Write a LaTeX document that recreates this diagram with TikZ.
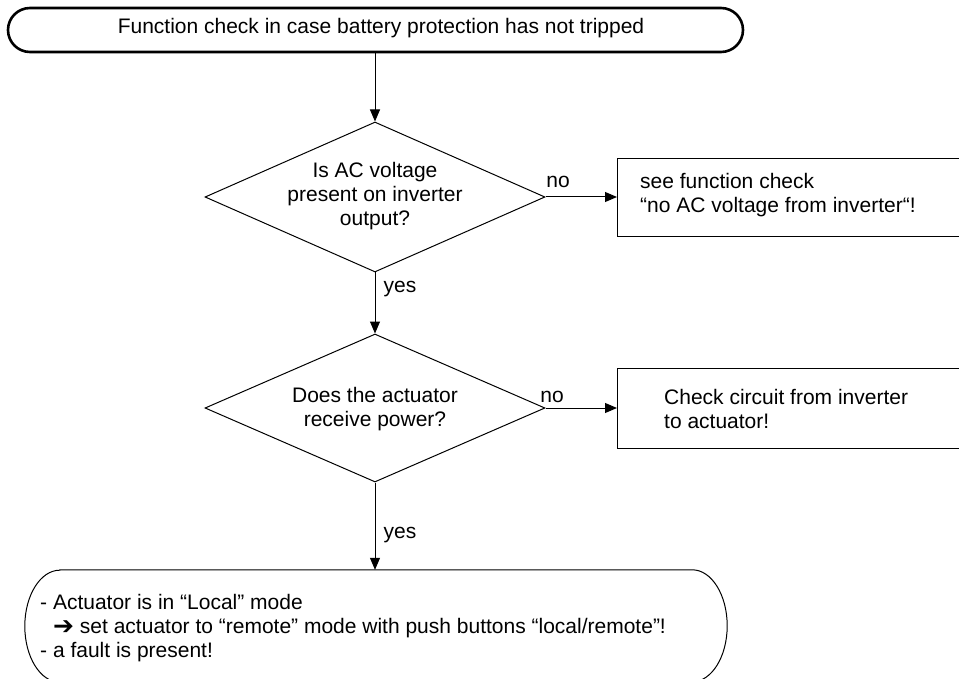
\documentclass[tikz,border=0pt]{standalone}
\usepackage{fontspec}
\setmainfont{Liberation Sans}
\newfontfamily\symfont{DejaVu Sans}
\usetikzlibrary{shapes.geometric,arrows.meta,calc}
\begin{document}
\begin{tikzpicture}[x=1pt,y=-1pt,
  every node/.style={font=\fontsize{21}{24}\selectfont},
  line/.style={line width=1pt},
  arr/.style={line width=1pt,-{Triangle[length=12pt,width=10pt]}},
  decision/.style={draw,diamond,line width=1pt,minimum width=340pt,minimum height=150pt,inner sep=0pt,align=center},
  actbox/.style={draw,rectangle,line width=1.2pt,anchor=north west,minimum height=78pt,minimum width=360pt},
  lbl/.style={inner sep=0pt}]
\useasboundingbox (0,0) rectangle (959,679);
\clip (0,0) rectangle (959,679);
% start terminal
\node[draw,rectangle,rounded corners=22pt,line width=2.6pt,minimum width=735pt,minimum height=44pt,inner sep=0pt] (start) at (375.5,30) {};
\node[lbl] (starttext) at (381,28) {Function check in case battery protection has not tripped};
% decision 1
\node[decision] (d1) at (375,197) {};
\node[lbl,align=center] (d1text) at (375,196) {Is AC voltage\\present on inverter\\output?};
% box 1
\node[actbox] (b1) at (617,158) {};
\node[lbl,anchor=west,align=left] (b1text) at (640,195) {see function check\\“no AC voltage from inverter“!};
% decision 2
\node[decision,minimum height=148pt] (d2) at (375,408) {};
\node[lbl,align=center] (d2text) at (375,409) {Does the actuator\\receive power?};
% box 2
\node[actbox,minimum height=80pt] (b2) at (617,368) {};
\node[lbl,anchor=west,align=left] (b2text) at (664,409) {Check circuit from inverter\\to actuator!};
% final terminal
\node[minimum width=702pt,minimum height=112pt,inner sep=0pt] (fin) at (376,626) {};
\draw[line] ($(fin.north west)+(35,0)$) -- ($(fin.north east)+(-35,0)$)
  arc[start angle=90,end angle=-90,x radius=35pt,y radius=56pt]
  -- ($(fin.south west)+(35,0)$)
  arc[start angle=270,end angle=90,x radius=35pt,y radius=56pt] -- cycle;
\node[lbl,anchor=west,align=left] (fintext) at (40,628) {- Actuator is in “Local” mode\\\hspace*{13pt}{\symfont\fontsize{25}{24}\selectfont\raisebox{-1pt}{➔}} set actuator to “remote” mode with push buttons “local/remote”!\\- a fault is present!};
% connectors
\draw[arr] (start.south -| d1.north) -- (d1.north);
\draw[arr] (d1.east) -- (b1.west |- d1.east);
\draw[arr] (d1.south) -- (d2.north);
\draw[arr] (d2.east) -- (b2.west |- d2.east);
\draw[arr] (d2.south) -- (fin.north -| d2.south);
% labels
\node[lbl] (no1) at (558,182) {no};
\node[lbl] (yes1) at (400,289) {yes};
\node[lbl] (no2) at (552,397) {no};
\node[lbl] (yes2) at (400,535) {yes};
\end{tikzpicture}
\end{document}
